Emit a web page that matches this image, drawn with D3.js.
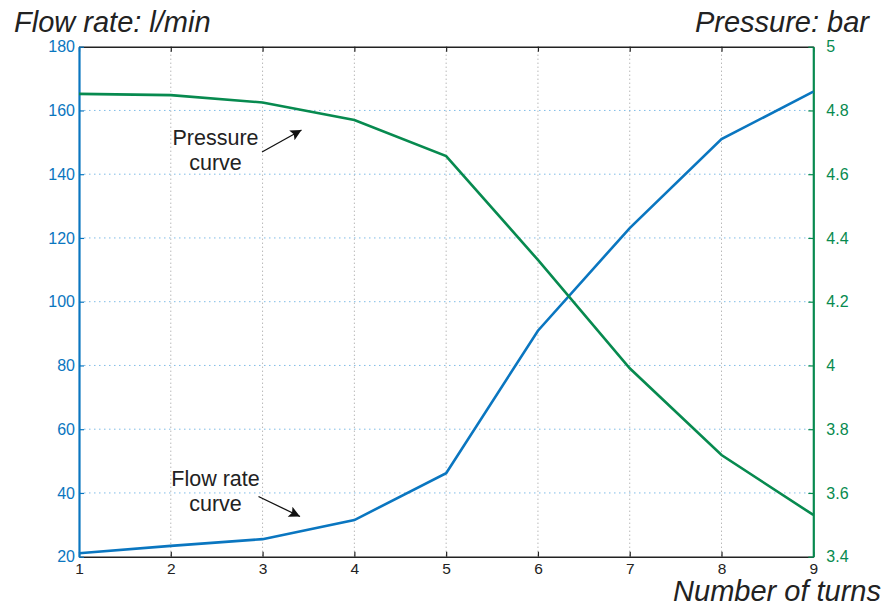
<!DOCTYPE html>
<html><head><meta charset="utf-8">
<script src="https://cdn.jsdelivr.net/npm/d3@7"></script>
<style>body{margin:0;background:#fff;}svg{display:block;font-family:"Liberation Sans",Arial,sans-serif;}</style>
</head><body>
<svg id="c" width="886" height="607"></svg>
<script>
const turns = [1,2,3,4,5,6,7,8,9];
const flowRate = [21.1,23.4,25.5,31.5,46.2,90.9,123.1,151.0,165.9];
const pressure = [4.852,4.848,4.825,4.77,4.657,4.331,3.991,3.719,3.531];
const flowTicks = [20,40,60,80,100,120,140,160,180];
const pressureTicks = [3.4,3.6,3.8,4,4.2,4.4,4.6,4.8,5];
const xTicks = [1,2,3,4,5,6,7,8,9];

const blue = "#0a76c0", green = "#078a4f", ink = "#222";
const L = 79, R = 813.3, T = 46.7, B = 556.7;
const svg = d3.select("#c");
const x = d3.scaleLinear().domain([1,9]).range([L,R]);
const yF = d3.scaleLinear().domain([20,180]).range([B,T]);
const yP = d3.scaleLinear().domain([3.4,5]).range([B,T]);

// grid
svg.append("g").selectAll("line").data(xTicks.slice(1,-1)).join("line")
  .attr("x1",d=>x(d)).attr("x2",d=>x(d)).attr("y1",T).attr("y2",B)
  .attr("stroke","#999").attr("stroke-width",1).attr("stroke-dasharray","1,3");
svg.append("g").selectAll("line").data(flowTicks.slice(1,-1)).join("line")
  .attr("x1",L).attr("x2",R).attr("y1",d=>yF(d)).attr("y2",d=>yF(d))
  .attr("stroke","#7fbce6").attr("stroke-width",1).attr("stroke-dasharray","1.5,3.5");

// axes
const ax = (g, color) => { g.select(".domain").attr("stroke",color).attr("stroke-width",1.6); g.selectAll(".tick line").attr("stroke",color).attr("stroke-width",1.2); g.selectAll(".tick text").attr("fill",color).attr("font-size",16); };
svg.append("g").attr("transform",`translate(0,${B})`)
  .call(d3.axisBottom(x).tickValues(xTicks).tickFormat(d3.format("d")).tickSizeInner(-5).tickSizeOuter(0).tickPadding(6))
  .call(g=>ax(g,ink)).call(g=>g.selectAll(".tick text").attr("fill",ink).attr("font-size",15.5));
svg.append("g").attr("transform",`translate(0,${T})`)
  .call(d3.axisTop(x).tickValues(xTicks).tickSizeInner(-5).tickSizeOuter(0).tickFormat(""))
  .call(g=>ax(g,ink));
svg.append("g").attr("transform",`translate(${L},0)`)
  .call(d3.axisLeft(yF).tickValues(flowTicks).tickSizeInner(-5).tickSizeOuter(0).tickPadding(4))
  .call(g=>ax(g,blue)).call(g=>g.select(".domain").attr("stroke-width",2.2));
svg.append("g").attr("transform",`translate(${R},0)`)
  .call(d3.axisRight(yP).tickValues(pressureTicks).tickFormat(d=>d3.format("")(+d.toFixed(1))).tickSizeInner(-5).tickSizeOuter(0).tickPadding(13))
  .call(g=>ax(g,green)).call(g=>g.select(".domain").attr("stroke-width",2.2));

// lines
svg.append("path").datum(turns.map((t,i)=>[t,flowRate[i]]))
  .attr("d",d3.line().x(d=>x(d[0])).y(d=>yF(d[1])))
  .attr("fill","none").attr("stroke",blue).attr("stroke-width",2.6);
svg.append("path").datum(turns.map((t,i)=>[t,pressure[i]]))
  .attr("d",d3.line().x(d=>x(d[0])).y(d=>yP(d[1])))
  .attr("fill","none").attr("stroke",green).attr("stroke-width",2.6);

// annotations
const defs = svg.append("defs");
defs.append("marker").attr("id","ah").attr("viewBox","0 0 10 10").attr("refX",10).attr("refY",5)
  .attr("markerWidth",17).attr("markerHeight",11).attr("markerUnits","userSpaceOnUse").attr("orient","auto")
  .append("path").attr("d","M0,0 L10,5 L0,10 L2,5 Z").attr("fill","#111");
const note = (lines, cx, y0) => {
  const t = svg.append("text").attr("text-anchor","middle").attr("font-size",21.5).attr("fill",ink);
  lines.forEach((s,i)=>t.append("tspan").attr("x",cx).attr("y",y0+i*25).text(s));
};
note(["Pressure","curve"], 215.5, 145);
svg.append("line").attr("x1",262).attr("y1",152).attr("x2",301.5).attr("y2",130)
  .attr("stroke","#111").attr("stroke-width",1.3).attr("marker-end","url(#ah)");
note(["Flow rate","curve"], 215.5, 486);
svg.append("line").attr("x1",258.5).attr("y1",496.5).attr("x2",300).attr("y2",516.5)
  .attr("stroke","#111").attr("stroke-width",1.3).attr("marker-end","url(#ah)");

// titles
svg.append("text").attr("x",14).attr("y",32).attr("font-size",29).attr("font-style","italic").attr("fill",ink).text("Flow rate: l/min");
svg.append("text").attr("x",869).attr("y",32).attr("text-anchor","end").attr("font-size",29).attr("font-style","italic").attr("fill",ink).text("Pressure: bar");
svg.append("text").attr("x",881).attr("y",601).attr("text-anchor","end").attr("font-size",29).attr("font-style","italic").attr("fill",ink).text("Number of turns");
</script>
</body></html>
